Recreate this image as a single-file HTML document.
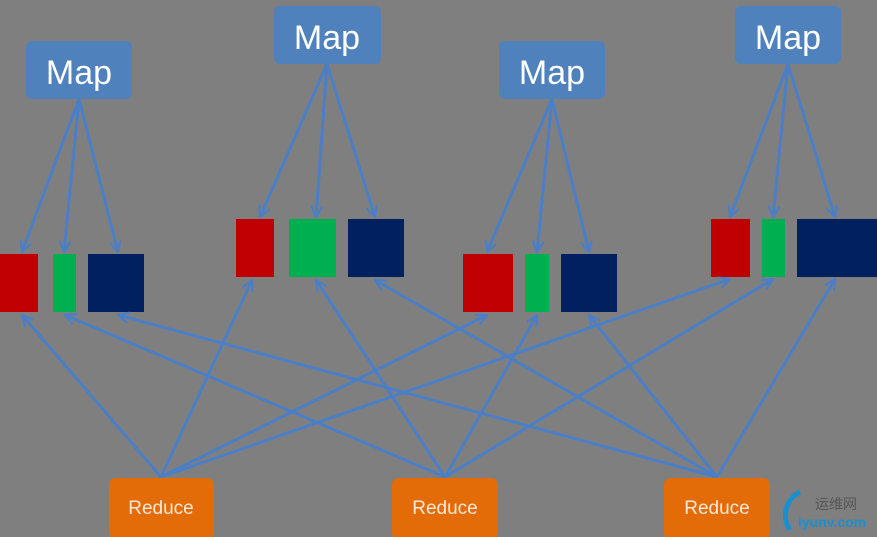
<!DOCTYPE html>
<html><head><meta charset="utf-8"><style>
html,body{margin:0;padding:0;background:#7f7f7f;}
svg{display:block}
</style></head><body>
<svg width="877" height="537" viewBox="0 0 877 537" xmlns="http://www.w3.org/2000/svg">
<defs>
<marker id="a" viewBox="0 0 12 12" refX="11" refY="6" markerWidth="13" markerHeight="13" markerUnits="userSpaceOnUse" orient="auto">
<path d="M1,1 L11,6 L1,11" fill="none" stroke="#4a7fc8" stroke-width="2"/>
</marker>
</defs>
<rect width="877" height="537" fill="#7f7f7f"/>
<g>
<rect x="0" y="254" width="38" height="58" fill="#c00000"/>
<rect x="53" y="254" width="23" height="58" fill="#00b050"/>
<rect x="88" y="254" width="56" height="58" fill="#002060"/>
<rect x="236" y="219" width="38" height="58" fill="#c00000"/>
<rect x="289" y="219" width="47" height="58" fill="#00b050"/>
<rect x="348" y="219" width="56" height="58" fill="#002060"/>
<rect x="463" y="254" width="50" height="58" fill="#c00000"/>
<rect x="525" y="254" width="24" height="58" fill="#00b050"/>
<rect x="561" y="254" width="56" height="58" fill="#002060"/>
<rect x="711" y="219" width="39" height="58" fill="#c00000"/>
<rect x="762" y="219" width="23" height="58" fill="#00b050"/>
<rect x="797" y="219" width="80" height="58" fill="#002060"/>
</g>
<g stroke="#4a7fc8" stroke-width="3" fill="none" marker-end="url(#a)">
<line x1="79" y1="99" x2="22" y2="252"/>
<line x1="79" y1="99" x2="64" y2="252"/>
<line x1="79" y1="99" x2="118" y2="252"/>
<line x1="327" y1="64" x2="260" y2="217"/>
<line x1="327" y1="64" x2="316" y2="217"/>
<line x1="327" y1="64" x2="375" y2="217"/>
<line x1="552" y1="99" x2="487" y2="252"/>
<line x1="552" y1="99" x2="537" y2="252"/>
<line x1="552" y1="99" x2="589" y2="252"/>
<line x1="788" y1="64" x2="730" y2="217"/>
<line x1="788" y1="64" x2="773" y2="217"/>
<line x1="788" y1="64" x2="835" y2="217"/>
<line x1="161" y1="477" x2="22" y2="315"/>
<line x1="161" y1="477" x2="252" y2="280"/>
<line x1="161" y1="477" x2="487" y2="315"/>
<line x1="161" y1="477" x2="730" y2="279"/>
<line x1="445" y1="477" x2="65" y2="315"/>
<line x1="445" y1="477" x2="316" y2="280"/>
<line x1="445" y1="477" x2="537" y2="315"/>
<line x1="445" y1="477" x2="773" y2="279"/>
<line x1="717" y1="477" x2="118" y2="315"/>
<line x1="717" y1="477" x2="375" y2="280"/>
<line x1="717" y1="477" x2="589" y2="315"/>
<line x1="717" y1="477" x2="835" y2="279"/>
</g>
<g fill="#4f81bd">
<rect x="26" y="41" width="106" height="58" rx="6"/>
<rect x="274" y="6" width="107" height="58" rx="6"/>
<rect x="499" y="41" width="106" height="58" rx="6"/>
<rect x="735" y="6" width="106" height="58" rx="6"/>
</g>
<g fill="#ffffff" font-family="Liberation Sans, sans-serif" font-size="34" text-anchor="middle">
<text x="79" y="84">Map</text>
<text x="327" y="49">Map</text>
<text x="552" y="84">Map</text>
<text x="788" y="49">Map</text>
</g>
<g fill="#e36c09">
<rect x="109" y="478" width="105" height="62" rx="7"/>
<rect x="392" y="478" width="106" height="62" rx="7"/>
<rect x="664" y="478" width="106" height="62" rx="7"/>
</g>
<g fill="#fde9d9" font-family="Liberation Sans, sans-serif" font-size="19" text-anchor="middle">
<text x="161" y="514">Reduce</text>
<text x="445" y="514">Reduce</text>
<text x="717" y="514">Reduce</text>
</g>
<path d="M800,492 A26,26 0 0 0 790,530" fill="none" stroke="#1a8fd0" stroke-width="5"/>
<text x="815" y="509" font-family="Liberation Sans, 'Noto Sans CJK SC', sans-serif" font-size="14" fill="#555">运维网</text>
<text x="798" y="527" font-family="Liberation Sans, sans-serif" font-size="14" font-weight="bold" fill="#1a8fd0">iyunv.com</text>
</svg>
</body></html>
